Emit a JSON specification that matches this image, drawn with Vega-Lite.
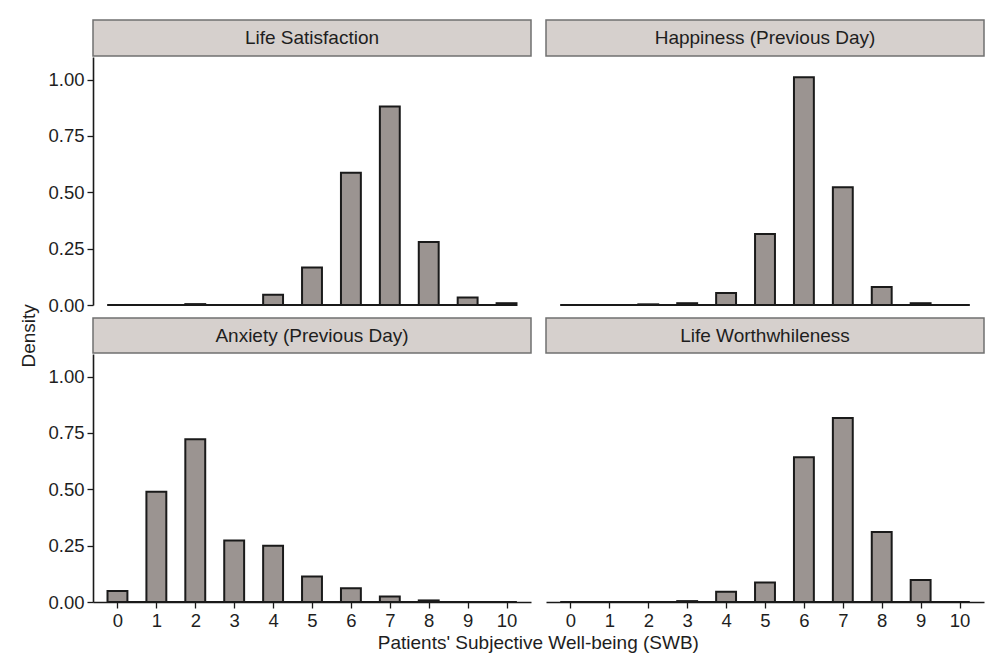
{
  "$schema": "https://vega.github.io/schema/vega-lite/v6.json",
  "padding": {"left": 19, "top": 19, "right": 5, "bottom": 5},
  "background": "white",
  "spacing": 2,
  "config": {
    "view": {"stroke": null},
    "font": "Liberation Sans",
    "axis": {"labelFont": "Liberation Sans", "labelFontSize": 18.5, "labelColor": "#1e1e1e", "domainColor": "#1a1a1a", "domainWidth": 1.6, "tickColor": "#1a1a1a", "tickWidth": 1.3, "tickSize": 6, "labelPadding": 3, "grid": false},
    "title": {"font": "Liberation Sans", "fontSize": 19, "fontWeight": "normal", "color": "#1e1e1e"}
  },
  "datasets": {
    "swb": [
      {"measure": "Life Satisfaction", "score": 2, "density": 0.004},
      {"measure": "Life Satisfaction", "score": 4, "density": 0.045},
      {"measure": "Life Satisfaction", "score": 5, "density": 0.166},
      {"measure": "Life Satisfaction", "score": 6, "density": 0.587},
      {"measure": "Life Satisfaction", "score": 7, "density": 0.88},
      {"measure": "Life Satisfaction", "score": 8, "density": 0.279},
      {"measure": "Life Satisfaction", "score": 9, "density": 0.033},
      {"measure": "Life Satisfaction", "score": 10, "density": 0.008},
      {"measure": "Happiness (Previous Day)", "score": 2, "density": 0.003},
      {"measure": "Happiness (Previous Day)", "score": 3, "density": 0.008},
      {"measure": "Happiness (Previous Day)", "score": 4, "density": 0.053},
      {"measure": "Happiness (Previous Day)", "score": 5, "density": 0.315},
      {"measure": "Happiness (Previous Day)", "score": 6, "density": 1.01},
      {"measure": "Happiness (Previous Day)", "score": 7, "density": 0.522},
      {"measure": "Happiness (Previous Day)", "score": 8, "density": 0.08},
      {"measure": "Happiness (Previous Day)", "score": 9, "density": 0.008},
      {"measure": "Anxiety (Previous Day)", "score": 0, "density": 0.049},
      {"measure": "Anxiety (Previous Day)", "score": 1, "density": 0.489},
      {"measure": "Anxiety (Previous Day)", "score": 2, "density": 0.722},
      {"measure": "Anxiety (Previous Day)", "score": 3, "density": 0.273},
      {"measure": "Anxiety (Previous Day)", "score": 4, "density": 0.25},
      {"measure": "Anxiety (Previous Day)", "score": 5, "density": 0.113},
      {"measure": "Anxiety (Previous Day)", "score": 6, "density": 0.061},
      {"measure": "Anxiety (Previous Day)", "score": 7, "density": 0.024},
      {"measure": "Anxiety (Previous Day)", "score": 8, "density": 0.007},
      {"measure": "Life Worthwhileness", "score": 3, "density": 0.004},
      {"measure": "Life Worthwhileness", "score": 4, "density": 0.045},
      {"measure": "Life Worthwhileness", "score": 5, "density": 0.086},
      {"measure": "Life Worthwhileness", "score": 6, "density": 0.642},
      {"measure": "Life Worthwhileness", "score": 7, "density": 0.816},
      {"measure": "Life Worthwhileness", "score": 8, "density": 0.31},
      {"measure": "Life Worthwhileness", "score": 9, "density": 0.098}
    ]
  },
  "title": {"text": "Density", "orient": "left", "anchor": "middle", "offset": 9},
  "vconcat": [
    {
      "spacing": 13,
      "hconcat": [
        {
          "spacing": 0,
          "vconcat": [
            {"width": 438, "height": 36, "data": {"values": [{"label": "Life Satisfaction"}]}, "mark": {"type": "text", "fontSize": 19, "color": "#1e1e1e", "font": "Liberation Sans"}, "encoding": {"text": {"field": "label"}}, "view": {"fill": "#d6d0cd", "stroke": "#707070", "strokeWidth": 1.5}},
            {"width": 438, "height": 248, "data": {"name": "swb"}, "transform": [{"filter": "datum.measure === 'Life Satisfaction'"}],
              "layer": [
                {"mark": {"type": "rule", "color": "#1a1a1a", "strokeWidth": 1.6}, "encoding": {"x": {"datum": -0.25, "type": "quantitative"}, "x2": {"datum": 10.25}, "y": {"datum": 0, "type": "quantitative"}}},
                {"mark": {"type": "bar", "orient": "vertical", "width": 19.9, "fill": "#9b9491", "stroke": "#1a1a1a", "strokeWidth": 2}, "encoding": {"x": {"field": "score", "type": "quantitative"}, "y": {"field": "density", "type": "quantitative"}}}
              ],
              "encoding": {
                "x": {"type": "quantitative", "scale": {"domain": [-0.5, 10.5], "nice": false, "zero": false}, "axis": null},
                "y": {"type": "quantitative", "scale": {"domain": [0, 1.1], "nice": false}, "axis": {"values": [0, 0.25, 0.5, 0.75, 1], "format": ".2f", "title": null}}
              }
            }
          ]
        },
        {
          "spacing": 0,
          "vconcat": [
            {"width": 438, "height": 36, "data": {"values": [{"label": "Happiness (Previous Day)"}]}, "mark": {"type": "text", "fontSize": 19, "color": "#1e1e1e", "font": "Liberation Sans"}, "encoding": {"text": {"field": "label"}}, "view": {"fill": "#d6d0cd", "stroke": "#707070", "strokeWidth": 1.5}},
            {"width": 438, "height": 248, "data": {"name": "swb"}, "transform": [{"filter": "datum.measure === 'Happiness (Previous Day)'"}],
              "layer": [
                {"mark": {"type": "rule", "color": "#1a1a1a", "strokeWidth": 1.6}, "encoding": {"x": {"datum": -0.25, "type": "quantitative"}, "x2": {"datum": 10.25}, "y": {"datum": 0, "type": "quantitative"}}},
                {"mark": {"type": "bar", "orient": "vertical", "width": 19.9, "fill": "#9b9491", "stroke": "#1a1a1a", "strokeWidth": 2}, "encoding": {"x": {"field": "score", "type": "quantitative"}, "y": {"field": "density", "type": "quantitative"}}}
              ],
              "encoding": {
                "x": {"type": "quantitative", "scale": {"domain": [-0.5, 10.5], "nice": false, "zero": false}, "axis": null},
                "y": {"type": "quantitative", "scale": {"domain": [0, 1.1], "nice": false}, "axis": null}
              }
            }
          ]
        }
      ]
    },
    {
      "spacing": 13,
      "title": {"text": "Patients' Subjective Well-being (SWB)", "orient": "bottom", "anchor": "middle", "offset": 4, "dx": 22},
      "hconcat": [
        {
          "spacing": 0,
          "vconcat": [
            {"width": 438, "height": 35, "data": {"values": [{"label": "Anxiety (Previous Day)"}]}, "mark": {"type": "text", "fontSize": 19, "color": "#1e1e1e", "font": "Liberation Sans"}, "encoding": {"text": {"field": "label"}}, "view": {"fill": "#d6d0cd", "stroke": "#707070", "strokeWidth": 1.5}},
            {"width": 438, "height": 248, "data": {"name": "swb"}, "transform": [{"filter": "datum.measure === 'Anxiety (Previous Day)'"}],
              "layer": [
                {"mark": {"type": "rule", "color": "#1a1a1a", "strokeWidth": 1.6}, "encoding": {"x": {"datum": -0.25, "type": "quantitative"}, "x2": {"datum": 10.25}, "y": {"datum": 0, "type": "quantitative"}}},
                {"mark": {"type": "bar", "orient": "vertical", "width": 19.9, "fill": "#9b9491", "stroke": "#1a1a1a", "strokeWidth": 2}, "encoding": {"x": {"field": "score", "type": "quantitative"}, "y": {"field": "density", "type": "quantitative"}}}
              ],
              "encoding": {
                "x": {"type": "quantitative", "scale": {"domain": [-0.5, 10.5], "nice": false, "zero": false}, "axis": {"values": [0, 1, 2, 3, 4, 5, 6, 7, 8, 9, 10], "format": "d", "title": null}},
                "y": {"type": "quantitative", "scale": {"domain": [0, 1.1], "nice": false}, "axis": {"values": [0, 0.25, 0.5, 0.75, 1], "format": ".2f", "title": null}}
              }
            }
          ]
        },
        {
          "spacing": 0,
          "vconcat": [
            {"width": 438, "height": 35, "data": {"values": [{"label": "Life Worthwhileness"}]}, "mark": {"type": "text", "fontSize": 19, "color": "#1e1e1e", "font": "Liberation Sans"}, "encoding": {"text": {"field": "label"}}, "view": {"fill": "#d6d0cd", "stroke": "#707070", "strokeWidth": 1.5}},
            {"width": 438, "height": 248, "data": {"name": "swb"}, "transform": [{"filter": "datum.measure === 'Life Worthwhileness'"}],
              "layer": [
                {"mark": {"type": "rule", "color": "#1a1a1a", "strokeWidth": 1.6}, "encoding": {"x": {"datum": -0.25, "type": "quantitative"}, "x2": {"datum": 10.25}, "y": {"datum": 0, "type": "quantitative"}}},
                {"mark": {"type": "bar", "orient": "vertical", "width": 19.9, "fill": "#9b9491", "stroke": "#1a1a1a", "strokeWidth": 2}, "encoding": {"x": {"field": "score", "type": "quantitative"}, "y": {"field": "density", "type": "quantitative"}}}
              ],
              "encoding": {
                "x": {"type": "quantitative", "scale": {"domain": [-0.5, 10.5], "nice": false, "zero": false}, "axis": {"values": [0, 1, 2, 3, 4, 5, 6, 7, 8, 9, 10], "format": "d", "title": null}},
                "y": {"type": "quantitative", "scale": {"domain": [0, 1.1], "nice": false}, "axis": null}
              }
            }
          ]
        }
      ]
    }
  ]
}
